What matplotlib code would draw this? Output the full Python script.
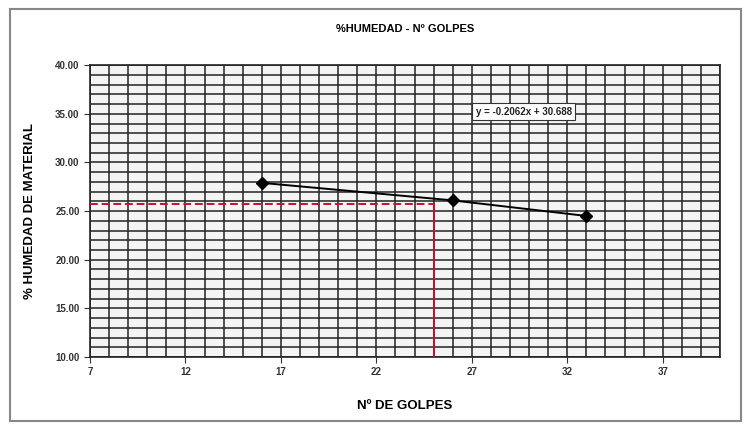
import matplotlib
matplotlib.use("Agg")
import matplotlib.pyplot as plt
from matplotlib.ticker import MultipleLocator, FormatStrFormatter
from matplotlib.patches import Rectangle

plt.rcParams['font.family'] = ['Liberation Sans', 'DejaVu Sans']

golpes = [16, 26, 33]
humedad = [27.9, 26.1, 24.5]
x_ticks = [7, 12, 17, 22, 27, 32, 37]
y_ticks = [10, 15, 20, 25, 30, 35, 40]
x_target = 25
y_target = 25.7
equation = "y = -0.2062x + 30.688"

fig = plt.figure(figsize=(7.5, 4.26), dpi=100)
fig.patch.set_facecolor('white')
fig.add_artist(Rectangle((0.013, 0.012), 0.975, 0.968, transform=fig.transFigure,
                         fill=False, edgecolor='#888888', linewidth=1.5))

ax = fig.add_axes([0.12, 0.162, 0.84, 0.685])
ax.set_xlim(7, 40)
ax.set_ylim(10, 40)
ax.set_xticks(x_ticks)
ax.set_yticks(y_ticks)
ax.xaxis.set_minor_locator(MultipleLocator(1))
ax.yaxis.set_minor_locator(MultipleLocator(1))
ax.yaxis.set_major_formatter(FormatStrFormatter('%.2f'))
ax.grid(which='both', color='#222222', linewidth=1.1)
ax.set_axisbelow(True)
ax.set_facecolor('#f4f4f4')
for s in ax.spines.values():
    s.set_color('#222222')
    s.set_linewidth(1.2)
ax.tick_params(which='major', labelsize=7, length=4, colors='#333333')
ax.tick_params(which='minor', length=0)
for lab in ax.get_xticklabels() + ax.get_yticklabels():
    lab.set_fontweight('bold')

ax.plot([7, x_target], [y_target, y_target], color='#c8102e', linestyle='--',
        linewidth=1.4, dashes=(4, 2), zorder=3)
ax.plot([x_target, x_target], [10, y_target], color='#c8102e', linewidth=1.4, zorder=3)

ax.plot(golpes, humedad, color='black', linewidth=1.4, marker='D', markersize=6,
        zorder=4)

ax.text(27.2, 35.2, equation, fontsize=7, fontweight='bold', color='#222222',
        va='center', ha='left', zorder=5,
        bbox=dict(facecolor='white', edgecolor='#333333', linewidth=0.8, pad=2.5))

ax.set_title("%HUMEDAD - Nº GOLPES", fontsize=8, fontweight='bold', pad=24)
ax.set_xlabel("Nº DE GOLPES", fontsize=9.5, fontweight='bold', labelpad=16)
ax.set_ylabel("% HUMEDAD DE MATERIAL", fontsize=9.5, fontweight='bold', labelpad=14)

fig.savefig("out.png", dpi=100, facecolor='white')
